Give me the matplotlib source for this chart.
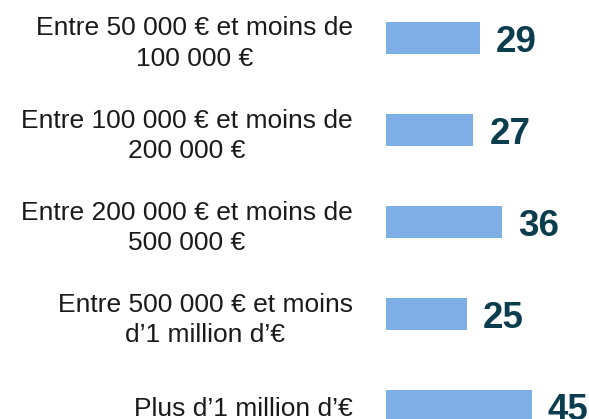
import matplotlib.pyplot as plt

categories = [
    "Entre 50 000 € et moins de\n100 000 €",
    "Entre 100 000 € et moins de\n200 000 €",
    "Entre 200 000 € et moins de\n500 000 €",
    "Entre 500 000 € et moins\nd’1 million d’€",
    "Plus d’1 million d’€",
]
values = [29, 27, 36, 25, 45]

plt.rcParams["font.family"] = ["Liberation Sans", "DejaVu Sans"]

W, H = 589, 419
fig = plt.figure(figsize=(W / 100, H / 100), dpi=100)
ax = fig.add_axes([386 / W, 0, 194 / W, 1])

positions = list(range(len(values)))
ax.barh(positions, values, height=0.35, color="#7DAEE6")
ax.set_xlim(0, 60)
ax.set_ylim(4.141, -0.413)

for y, v in zip(positions, values):
    ax.text(v + 5, y + 0.01, str(v), va="center_baseline", ha="left", fontsize=26.5,
            fontweight="bold", color="#0B3D4F")

ax.set_yticks(positions)
ax.set_yticklabels(categories, fontsize=19, color="#1a1a1a", linespacing=1.35)
for t in ax.get_yticklabels():
    t.set_multialignment("center")
ax.tick_params(axis="y", length=0, pad=24)
ax.set_xticks([])
for s in ax.spines.values():
    s.set_visible(False)

fig.savefig("out.png", dpi=100)
